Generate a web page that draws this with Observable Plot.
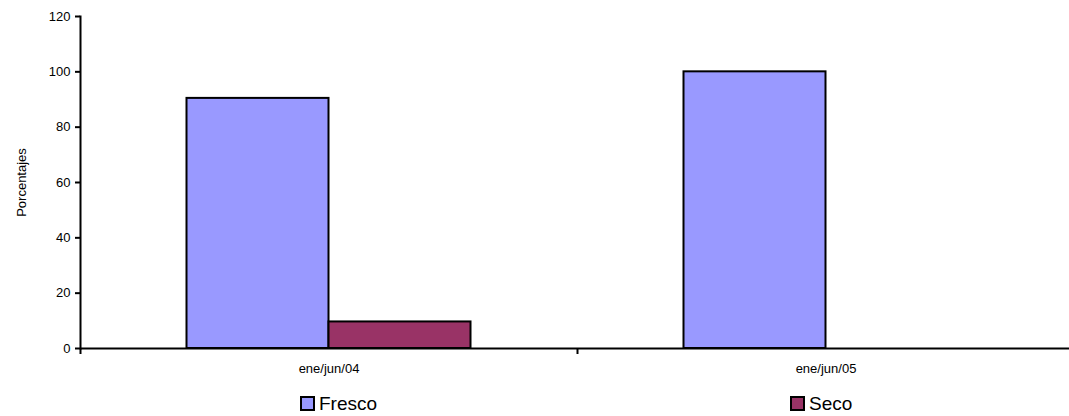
<!DOCTYPE html>
<html>
<head>
<meta charset="utf-8">
<script src="https://cdn.jsdelivr.net/npm/d3@7"></script>
<script src="https://cdn.jsdelivr.net/npm/@observablehq/plot@0.6"></script>
<style>
  html, body { margin: 0; padding: 0; background: #fff; }
  #chart { width: 1069px; overflow: hidden; }
  .legend { position: relative; width: 1069px; height: 31px; font-family: "Liberation Sans", Arial, sans-serif; font-size: 19px; color: #000; }
  .item { position: absolute; top: 9px; display: flex; align-items: center; line-height: 19px; }
  .sw { width: 11px; height: 11px; border: 2px solid #000; margin-right: 4px; }
</style>
</head>
<body>
<div id="chart"></div>
<script>
const categories = ["ene/jun/04", "ene/jun/05"];
const series = ["Fresco", "Seco"];
const fresco = [90.4, 100];
const seco = [9.6, 0];
const yTicks = [0, 20, 40, 60, 80, 100, 120];
const colors = ["#9999FF", "#993366"];

const rows = categories.map((c, i) => ({cat: c, fresco: fresco[i], seco: seco[i]}));

const W = 1069, H = 385;
const x0 = 80, x1 = 1074;
const band = (x1 - x0) / categories.length;
const barW = 142;
const gap = (band - 2 * barW) / 2;

const chart = Plot.plot({
  width: W,
  height: H,
  marginLeft: 80,
  marginRight: 0,
  marginTop: 16,
  marginBottom: 37,
  style: {fontFamily: "'Liberation Sans', Arial, sans-serif", fontSize: "13px", color: "#000", background: "#fff"},
  x: {domain: categories, range: [x0, x1], padding: 0},
  y: {domain: [0, 120], ticks: yTicks},
  marks: [
    Plot.barY(rows, {x: "cat", y: "fresco", fill: colors[0], stroke: "#000", strokeWidth: 2,
      insetLeft: gap, insetRight: band - gap - barW}),
    Plot.barY(rows.filter(d => d.seco > 0), {x: "cat", y: "seco", fill: colors[1], stroke: "#000", strokeWidth: 2,
      insetLeft: gap + barW, insetRight: gap}),
    Plot.ruleY([0], {stroke: "#000", strokeWidth: 2}),
    Plot.frame({anchor: "left", stroke: "#000", strokeWidth: 2}),
    Plot.ruleX(categories, {x: d => d, dx: -band / 2, y1: 0, y2: 0, insetBottom: -6, stroke: "#000", strokeWidth: 2}),
    Plot.axisY({ticks: yTicks, tickSize: 5, tickPadding: 5, tickFormat: d => String(d), strokeWidth: 2,
      label: "Porcentajes", labelAnchor: "center", labelOffset: 64, labelArrow: "none"}),
    Plot.axisX({tickSize: 0, tickPadding: 15, label: null})
  ]
});
document.getElementById("chart").appendChild(chart);

const legend = document.createElement("div");
legend.className = "legend";
const lx = [300, 790];
series.forEach((s, i) => {
  const it = document.createElement("div");
  it.className = "item";
  it.style.left = lx[i] + "px";
  const sw = document.createElement("div");
  sw.className = "sw";
  sw.style.background = colors[i];
  const t = document.createElement("span");
  t.textContent = s;
  it.appendChild(sw);
  it.appendChild(t);
  legend.appendChild(it);
});
document.body.appendChild(legend);
</script>
</body>
</html>
